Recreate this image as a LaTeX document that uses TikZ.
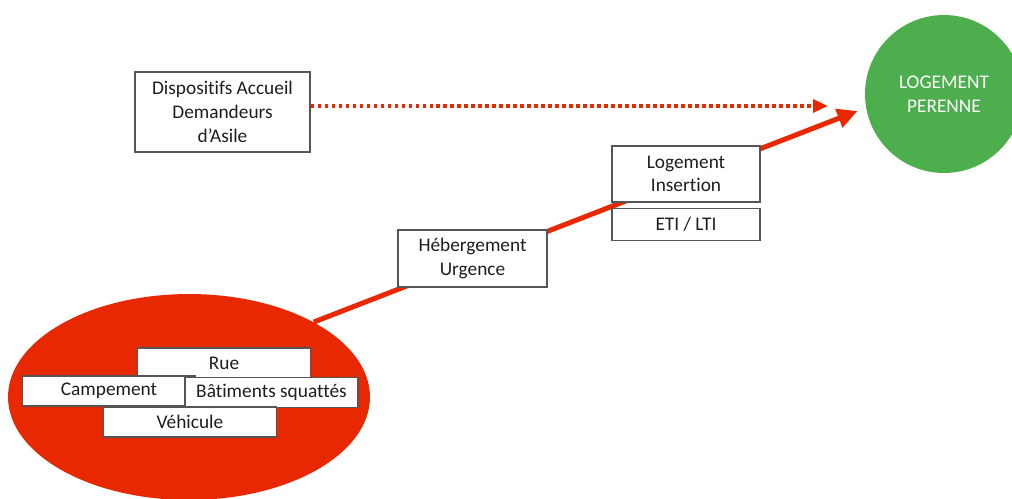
\documentclass[tikz,border=0pt]{standalone}
\usepackage{fontspec}
\setmainfont{Carlito}[Ligatures=NoCommon]
\usetikzlibrary{shapes.geometric,arrows.meta,positioning,backgrounds}
\definecolor{rouge}{RGB}{232,40,0}
\definecolor{vert}{RGB}{76,174,76}
\definecolor{bord}{RGB}{85,85,85}
\definecolor{texte}{RGB}{30,30,30}

\begin{document}
\begin{tikzpicture}[x=0.02cm,y=-0.02cm,
	boite/.style={draw=bord,line width=0.6pt,fill=white,text=texte,align=center,inner sep=0pt,font=\fontsize{11}{13.5}\selectfont},
	petite/.style={boite,minimum width=3.46cm,minimum height=0.6cm},
	fleche/.style={rouge,line width=0.1cm,shorten >=0.18cm,-{Triangle[length=0.4cm,width=0.38cm]}},
	pointille/.style={rouge,line width=0.07cm,dash pattern=on 0.07cm off 0.07cm,-{Triangle[length=0.3cm,width=0.26cm]}}]
	\useasboundingbox (0,0) rectangle (1012,498);
	\clip (0,0) rectangle (1012,498);

	\node[ellipse,fill=rouge,inner sep=0pt,minimum width=7.24cm,minimum height=4.12cm] (sansabri) at (189,397) {};
	\node[petite] (rue) at (224,363) {Rue};
	\node[petite] (campement) at (109,391) {Campement};
	\node[petite] (batiments) at (271.5,392.5) {Bâtiments squattés};
	\node[petite] (vehicule) at (190,422) {Véhicule};

	\node[boite,minimum width=3.5cm,minimum height=1.6cm] (disp) at (222.5,112) {Dispositifs Accueil\\Demandeurs\\d'Asile};
	\node[boite,minimum width=2.98cm,minimum height=1.14cm] (heb) at (472.5,258.5) {Hébergement\\Urgence};
	\node[boite,minimum width=2.96cm,minimum height=1.12cm] (insertion) at (686,174) {Logement\\Insertion};
	\node[boite,minimum width=2.96cm,minimum height=0.64cm,below=0.1cm of insertion] (eti) {ETI / LTI};

	\node[circle,fill=vert,text=white,align=center,inner sep=0pt,minimum size=3.16cm,font=\fontsize{11}{13.5}\selectfont] (perenne) at (944,94) {LOGEMENT\\PERENNE};

	\coordinate (pointe) at (828,106);
	\draw[pointille] (disp.east |- pointe) -- (pointe);

	\begin{pgfonlayer}{background}
	\draw[fleche] (sansabri.31) -- (perenne.190);
	\end{pgfonlayer}
\end{tikzpicture}
\end{document}
